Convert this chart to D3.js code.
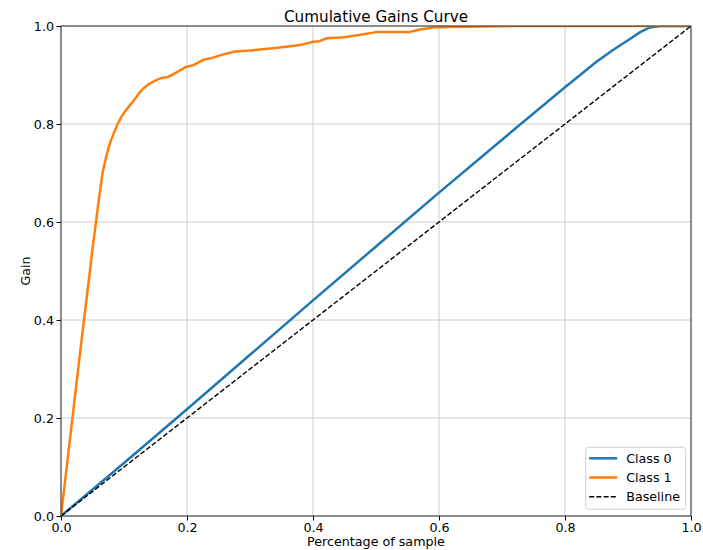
<!DOCTYPE html>
<html>
<head>
<meta charset="utf-8">
<script src="https://d3js.org/d3.v7.min.js"></script>
<style>
  body { margin: 0; background: #fff; }
  svg text { font-family: "DejaVu Sans", sans-serif; fill: #000; }
</style>
</head>
<body>
<div id="my_dataviz"></div>
<script>

// ---- data ----
var classNames = ["Class 0", "Class 1", "Baseline"];
var colors = ["#1f77b4", "#ff7f0e", "#000000"];

// Class 0 gain curve: [fraction of sample, gain]
var class0 = [
  [0, 0], [0.1, 0.108], [0.2, 0.218], [0.3, 0.329], [0.4, 0.440],
  [0.5, 0.550], [0.6, 0.660], [0.7, 0.768], [0.8, 0.875],
  [0.85, 0.927], [0.875, 0.950], [0.9, 0.971], [0.92, 0.988],
  [0.935, 0.997], [0.95, 1.0], [1.0, 1.0]
];

// Class 1 gain curve
var class1 = [
  [0, 0], [0.01, 0.11], [0.02, 0.22], [0.03, 0.33], [0.0365, 0.40],
  [0.045, 0.49], [0.05, 0.545], [0.056, 0.605], [0.06, 0.645],
  [0.066, 0.700], [0.072, 0.735], [0.078, 0.762], [0.085, 0.785],
  [0.090, 0.800], [0.096, 0.815], [0.103, 0.828], [0.110, 0.839],
  [0.118, 0.852], [0.124, 0.863], [0.131, 0.873], [0.140, 0.882],
  [0.152, 0.890], [0.160, 0.894], [0.170, 0.896], [0.180, 0.903],
  [0.1995, 0.917], [0.210, 0.920], [0.226, 0.931], [0.240, 0.935],
  [0.255, 0.941], [0.276, 0.948], [0.300, 0.950], [0.316, 0.952],
  [0.340, 0.955], [0.360, 0.958], [0.379, 0.961], [0.400, 0.968],
  [0.410, 0.969], [0.422, 0.975], [0.450, 0.977], [0.475, 0.982],
  [0.490, 0.985], [0.501, 0.988], [0.554, 0.988], [0.570, 0.993],
  [0.590, 0.997], [0.620, 0.998], [0.700, 0.9995], [0.720, 1.0],
  [1.0, 1.0]
];

// Baseline diagonal
var baseline = [[0, 0], [1, 1]];

var xTicks = [0, 0.2, 0.4, 0.6, 0.8, 1.0];
var yTicks = [0, 0.2, 0.4, 0.6, 0.8, 1.0];

var title = "Cumulative Gains Curve";
var xLabel = "Percentage of sample";
var yLabel = "Gain";

// ---- layout ----
var W = 703, H = 550;
var margin = {top: 26, right: 12, bottom: 34, left: 61};
var width = W - margin.left - margin.right,   // 630
    height = H - margin.top - margin.bottom;  // 490

var svg = d3.select("#my_dataviz")
  .append("svg")
    .attr("width", W)
    .attr("height", H)
  .append("g")
    .attr("transform", "translate(" + margin.left + "," + margin.top + ")");

var x = d3.scaleLinear().domain([0, 1]).range([0, width]);
var y = d3.scaleLinear().domain([0, 1]).range([height, 0]);

// grid
svg.append("g")
  .selectAll("line")
  .data(xTicks)
  .enter().append("line")
    .attr("x1", function(d) { return x(d); })
    .attr("x2", function(d) { return x(d); })
    .attr("y1", 0)
    .attr("y2", height)
    .attr("stroke", "#cccccc")
    .attr("stroke-width", 1);

svg.append("g")
  .selectAll("line")
  .data(yTicks)
  .enter().append("line")
    .attr("x1", 0)
    .attr("x2", width)
    .attr("y1", function(d) { return y(d); })
    .attr("y2", function(d) { return y(d); })
    .attr("stroke", "#cccccc")
    .attr("stroke-width", 1);

// clip for the curves
svg.append("clipPath")
    .attr("id", "plotclip")
  .append("rect")
    .attr("width", width)
    .attr("height", height);

var line = d3.line()
  .x(function(d) { return x(d[0]); })
  .y(function(d) { return y(d[1]); });

var curves = [class0, class1];
svg.append("g")
  .attr("clip-path", "url(#plotclip)")
  .selectAll("path")
  .data(curves)
  .enter().append("path")
    .attr("d", line)
    .attr("fill", "none")
    .attr("stroke", function(d, i) { return colors[i]; })
    .attr("stroke-width", 2.5)
    .attr("stroke-linejoin", "round");

svg.append("path")
  .datum(baseline)
  .attr("clip-path", "url(#plotclip)")
  .attr("d", line)
  .attr("fill", "none")
  .attr("stroke", colors[2])
  .attr("stroke-width", 1.4)
  .attr("stroke-dasharray", "5,2.2");

// axes
var xAxis = svg.append("g")
  .attr("transform", "translate(0," + height + ")")
  .call(d3.axisBottom(x).tickValues(xTicks).tickFormat(d3.format(".1f"))
    .tickSize(4.5).tickPadding(2.5));

var yAxis = svg.append("g")
  .call(d3.axisLeft(y).tickValues(yTicks).tickFormat(d3.format(".1f"))
    .tickSize(4.5).tickPadding(2.5));

[xAxis, yAxis].forEach(function(a) {
  a.select(".domain").remove();
  a.selectAll(".tick line").attr("stroke", "#000").attr("stroke-width", 1);
  a.selectAll(".tick text")
    .style("font-family", "DejaVu Sans, sans-serif")
    .style("font-size", "12.7px")
    .attr("fill", "#000");
});

// spines
svg.append("rect")
  .attr("width", width)
  .attr("height", height)
  .attr("fill", "none")
  .attr("stroke", "#333")
  .attr("stroke-width", 1);

// title and labels
svg.append("text")
  .attr("x", width / 2)
  .attr("y", 21.5 - margin.top)
  .attr("text-anchor", "middle")
  .style("font-size", "15.2px")
  .text(title);

svg.append("text")
  .attr("x", width / 2)
  .attr("y", 546 - margin.top)
  .attr("text-anchor", "middle")
  .style("font-size", "12.7px")
  .text(xLabel);

svg.append("text")
  .attr("transform", "translate(" + (30 - margin.left) + "," + (height / 2) + ") rotate(-90)")
  .attr("text-anchor", "middle")
  .style("font-size", "12.7px")
  .text(yLabel);

// legend
var legend = svg.append("g")
  .attr("transform", "translate(" + (585.7 - margin.left) + "," + (447.3 - margin.top) + ")");

legend.append("rect")
  .attr("width", 100)
  .attr("height", 62)
  .attr("rx", 3)
  .attr("fill", "#fff")
  .attr("fill-opacity", 0.8)
  .attr("stroke", "#d0d0d0")
  .attr("stroke-width", 1);

var items = legend.selectAll("g.item")
  .data(classNames)
  .enter().append("g")
    .attr("class", "item")
    .attr("transform", function(d, i) { return "translate(0," + (11 + i * 19.2) + ")"; });

items.append("line")
  .attr("x1", 3.5)
  .attr("x2", 31.5)
  .attr("stroke", function(d, i) { return colors[i]; })
  .attr("stroke-width", function(d, i) { return i < 2 ? 2.5 : 1.4; })
  .attr("stroke-dasharray", function(d, i) { return i < 2 ? null : "5,2.2"; });

items.append("text")
  .attr("x", 40.5)
  .attr("dy", "0.35em")
  .style("font-size", "12.7px")
  .text(function(d) { return d; });

</script>
</body>
</html>
